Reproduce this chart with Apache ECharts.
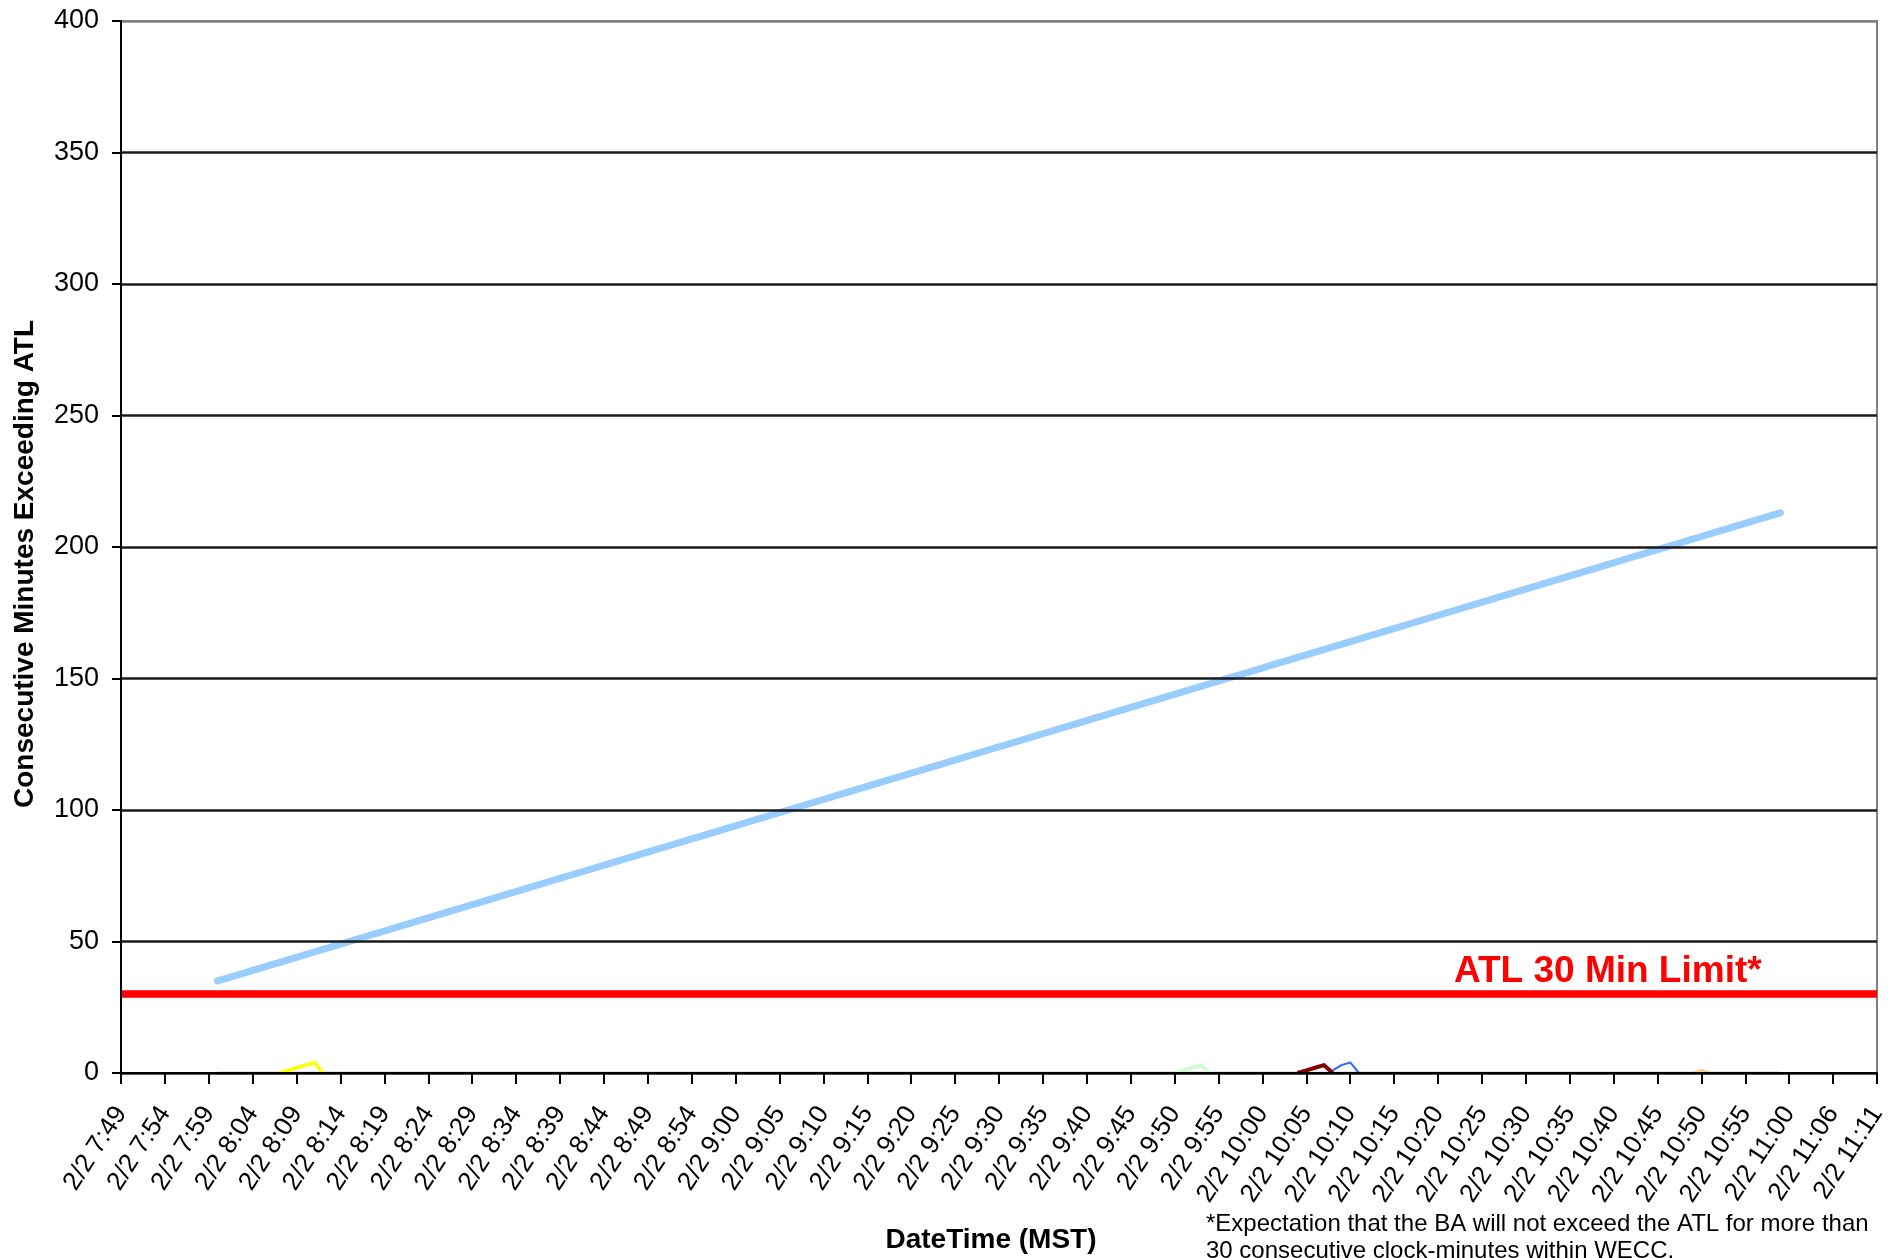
<!DOCTYPE html>
<html>
<head>
<meta charset="utf-8">
<script src="https://cdn.jsdelivr.net/npm/echarts@6/dist/echarts.min.js"></script>
<style>
html,body{margin:0;padding:0;background:#fff;}
#chart{width:1895px;height:1258px;}
</style>
</head>
<body>
<div id="chart"></div>
<script>
// Tick labels on the category axis (one every 5 samples)
const tickLabels = ['2/2 7:49','2/2 7:54','2/2 7:59','2/2 8:04','2/2 8:09','2/2 8:14','2/2 8:19','2/2 8:24','2/2 8:29','2/2 8:34','2/2 8:39','2/2 8:44','2/2 8:49','2/2 8:54','2/2 9:00','2/2 9:05','2/2 9:10','2/2 9:15','2/2 9:20','2/2 9:25','2/2 9:30','2/2 9:35','2/2 9:40','2/2 9:45','2/2 9:50','2/2 9:55','2/2 10:00','2/2 10:05','2/2 10:10','2/2 10:15','2/2 10:20','2/2 10:25','2/2 10:30','2/2 10:35','2/2 10:40','2/2 10:45','2/2 10:50','2/2 10:55','2/2 11:00','2/2 11:06','2/2 11:11'];
const samplesPerTick = 5;

// Main series: consecutive minutes exceeding ATL (light blue)
const blueStart = 11;
const blueValues = [35,36,37,38,39,40,41,42,43,44,45,46,47,48,49,50,51,52,53,54,55,56,57,58,59,60,61,62,63,64,65,66,67,68,69,70,71,72,73,74,75,76,77,78,79,80,81,82,83,84,85,86,87,88,89,90,91,92,
93,94,95,96,97,98,99,100,101,102,103,104,105,106,107,108,109,110,111,112,113,114,115,116,117,118,119,120,121,122,123,124,125,126,127,128,129,130,131,132,133,134,135,136,137,138,139,140,141,142,143,144,145,146,147,148,149,150,151,152,153,154,155,156,157,158,159,160,161,162,163,164,165,166,167,168,169,170,171,172,173,174,175,176,177,178,179,180,181,182,183,184,185,186,187,188,189,190,191,192,193,194,195,196,197,198,199,200,201,202,203,204,205,206,207,208,209,210,211,212,213];

// Small series near zero, as [sampleIndex, value]
const lavenderPoints = [[11,0],[189,0]];
const yellowPoints = [[18,0],[19,1],[20,2],[21,3],[22,4],[23,0]];
const greenPoints = [[120,0],[121,1],[122,2],[123,3],[124,0]];
const darkRedPoints = [[134,0],[135,1],[136,2],[137,3],[138,0]];
const royalBluePoints = [[138,1],[139,3],[140,4],[141,0]];
const orangePoints = [[179,0],[180,1],[181,0]];

// ATL limit
const atlLimit = 30;

// y axis
const yMin = 0, yMax = 400, yStep = 50;

// ---- build ----
const nSamples = (tickLabels.length - 1) * samplesPerTick + 1;
const categories = [];
for (let i = 0; i < nSamples; i++) {
  categories.push(i % samplesPerTick === 0 ? tickLabels[i / samplesPerTick] : '');
}
const blueData = new Array(nSamples).fill(null);
blueValues.forEach((v, k) => { blueData[blueStart + k] = v; });
const atlData = [[0, atlLimit], [nSamples - 1, atlLimit]];

const nLines = (yMax - yMin) / yStep + 1;
const splitColors = [];
for (let i = 0; i < nLines; i++) splitColors.push(i === nLines - 1 ? '#808080' : '#1a1a1a');

const chart = echarts.init(document.getElementById('chart'), null, {renderer: 'canvas'});

function lineSeries(data, color, width, z, cap) {
  return {type: 'line', data: data, symbol: 'none', showSymbol: false, z: z || 2,
    lineStyle: {color: color, width: width, cap: cap || 'butt', join: 'round'}, itemStyle: {color: color}, animation: false, connectNulls: false};
}

chart.setOption({
  animation: false,
  backgroundColor: '#ffffff',
  grid: {left: 121, top: 21, right: 18, bottom: 185, show: true, borderColor: '#808080', borderWidth: 2, backgroundColor: 'transparent'},
  xAxis: {
    type: 'category', data: categories, boundaryGap: false, z: 10,
    axisLine: {show: true, lineStyle: {color: '#000', width: 2}},
    axisTick: {show: true, interval: samplesPerTick - 1, length: 11, lineStyle: {color: '#000', width: 2}},
    axisLabel: {interval: samplesPerTick - 1, rotate: 57, margin: 36, fontFamily: 'Liberation Sans', fontSize: 26, color: '#000'},
    splitLine: {show: false}
  },
  yAxis: {
    type: 'value', min: yMin, max: yMax, interval: yStep, z: 10,
    axisLine: {show: true, lineStyle: {color: '#000', width: 2}},
    axisTick: {show: true, length: 9, lineStyle: {color: '#000', width: 2}},
    axisLabel: {margin: 22, fontFamily: 'Liberation Sans', fontSize: 27, color: '#000'},
    splitLine: {show: true, lineStyle: {color: splitColors, width: 2.5}}
  },
  series: [
    lineSeries(lavenderPoints, '#c8c8f4', 3, 2),
    lineSeries(yellowPoints, '#ffff00', 3.5, 3),
    lineSeries(greenPoints, '#ccffcc', 3.5, 3),
    lineSeries(darkRedPoints, '#800000', 4, 3),
    lineSeries(royalBluePoints, '#3366ff', 2, 3),
    lineSeries(orangePoints, '#ffcc99', 3, 3),
    lineSeries(blueData, '#99ccff', 7, 4, 'round'),
    lineSeries(atlData, '#ff0000', 7.5, 5)
  ],
  graphic: [
    {type: 'text', left: 1454, top: 953, z: 20,
      style: {text: 'ATL 30 Min Limit*', fill: '#ff0000', font: 'bold 37px "Liberation Sans"'}},
    {type: 'text', x: 25, y: 564, rotation: Math.PI / 2, z: 20,
      style: {text: 'Consecutive Minutes Exceeding ATL', fill: '#000', font: 'bold 28px "Liberation Sans"', textAlign: 'center', textVerticalAlign: 'middle'}},
    {type: 'text', x: 991, y: 1240, z: 20,
      style: {text: 'DateTime (MST)', fill: '#000', font: 'bold 28px "Liberation Sans"', textAlign: 'center', textVerticalAlign: 'middle'}},
    {type: 'text', x: 1206, y: 1224, z: 20,
      style: {text: '*Expectation that the BA will not exceed the ATL for more than', fill: '#000', font: '24px "Liberation Sans"', textAlign: 'left', textVerticalAlign: 'middle'}},
    {type: 'text', x: 1206, y: 1251, z: 20,
      style: {text: '30 consecutive clock-minutes within WECC.', fill: '#000', font: '24px "Liberation Sans"', textAlign: 'left', textVerticalAlign: 'middle'}}
  ]
});
</script>
</body>
</html>
